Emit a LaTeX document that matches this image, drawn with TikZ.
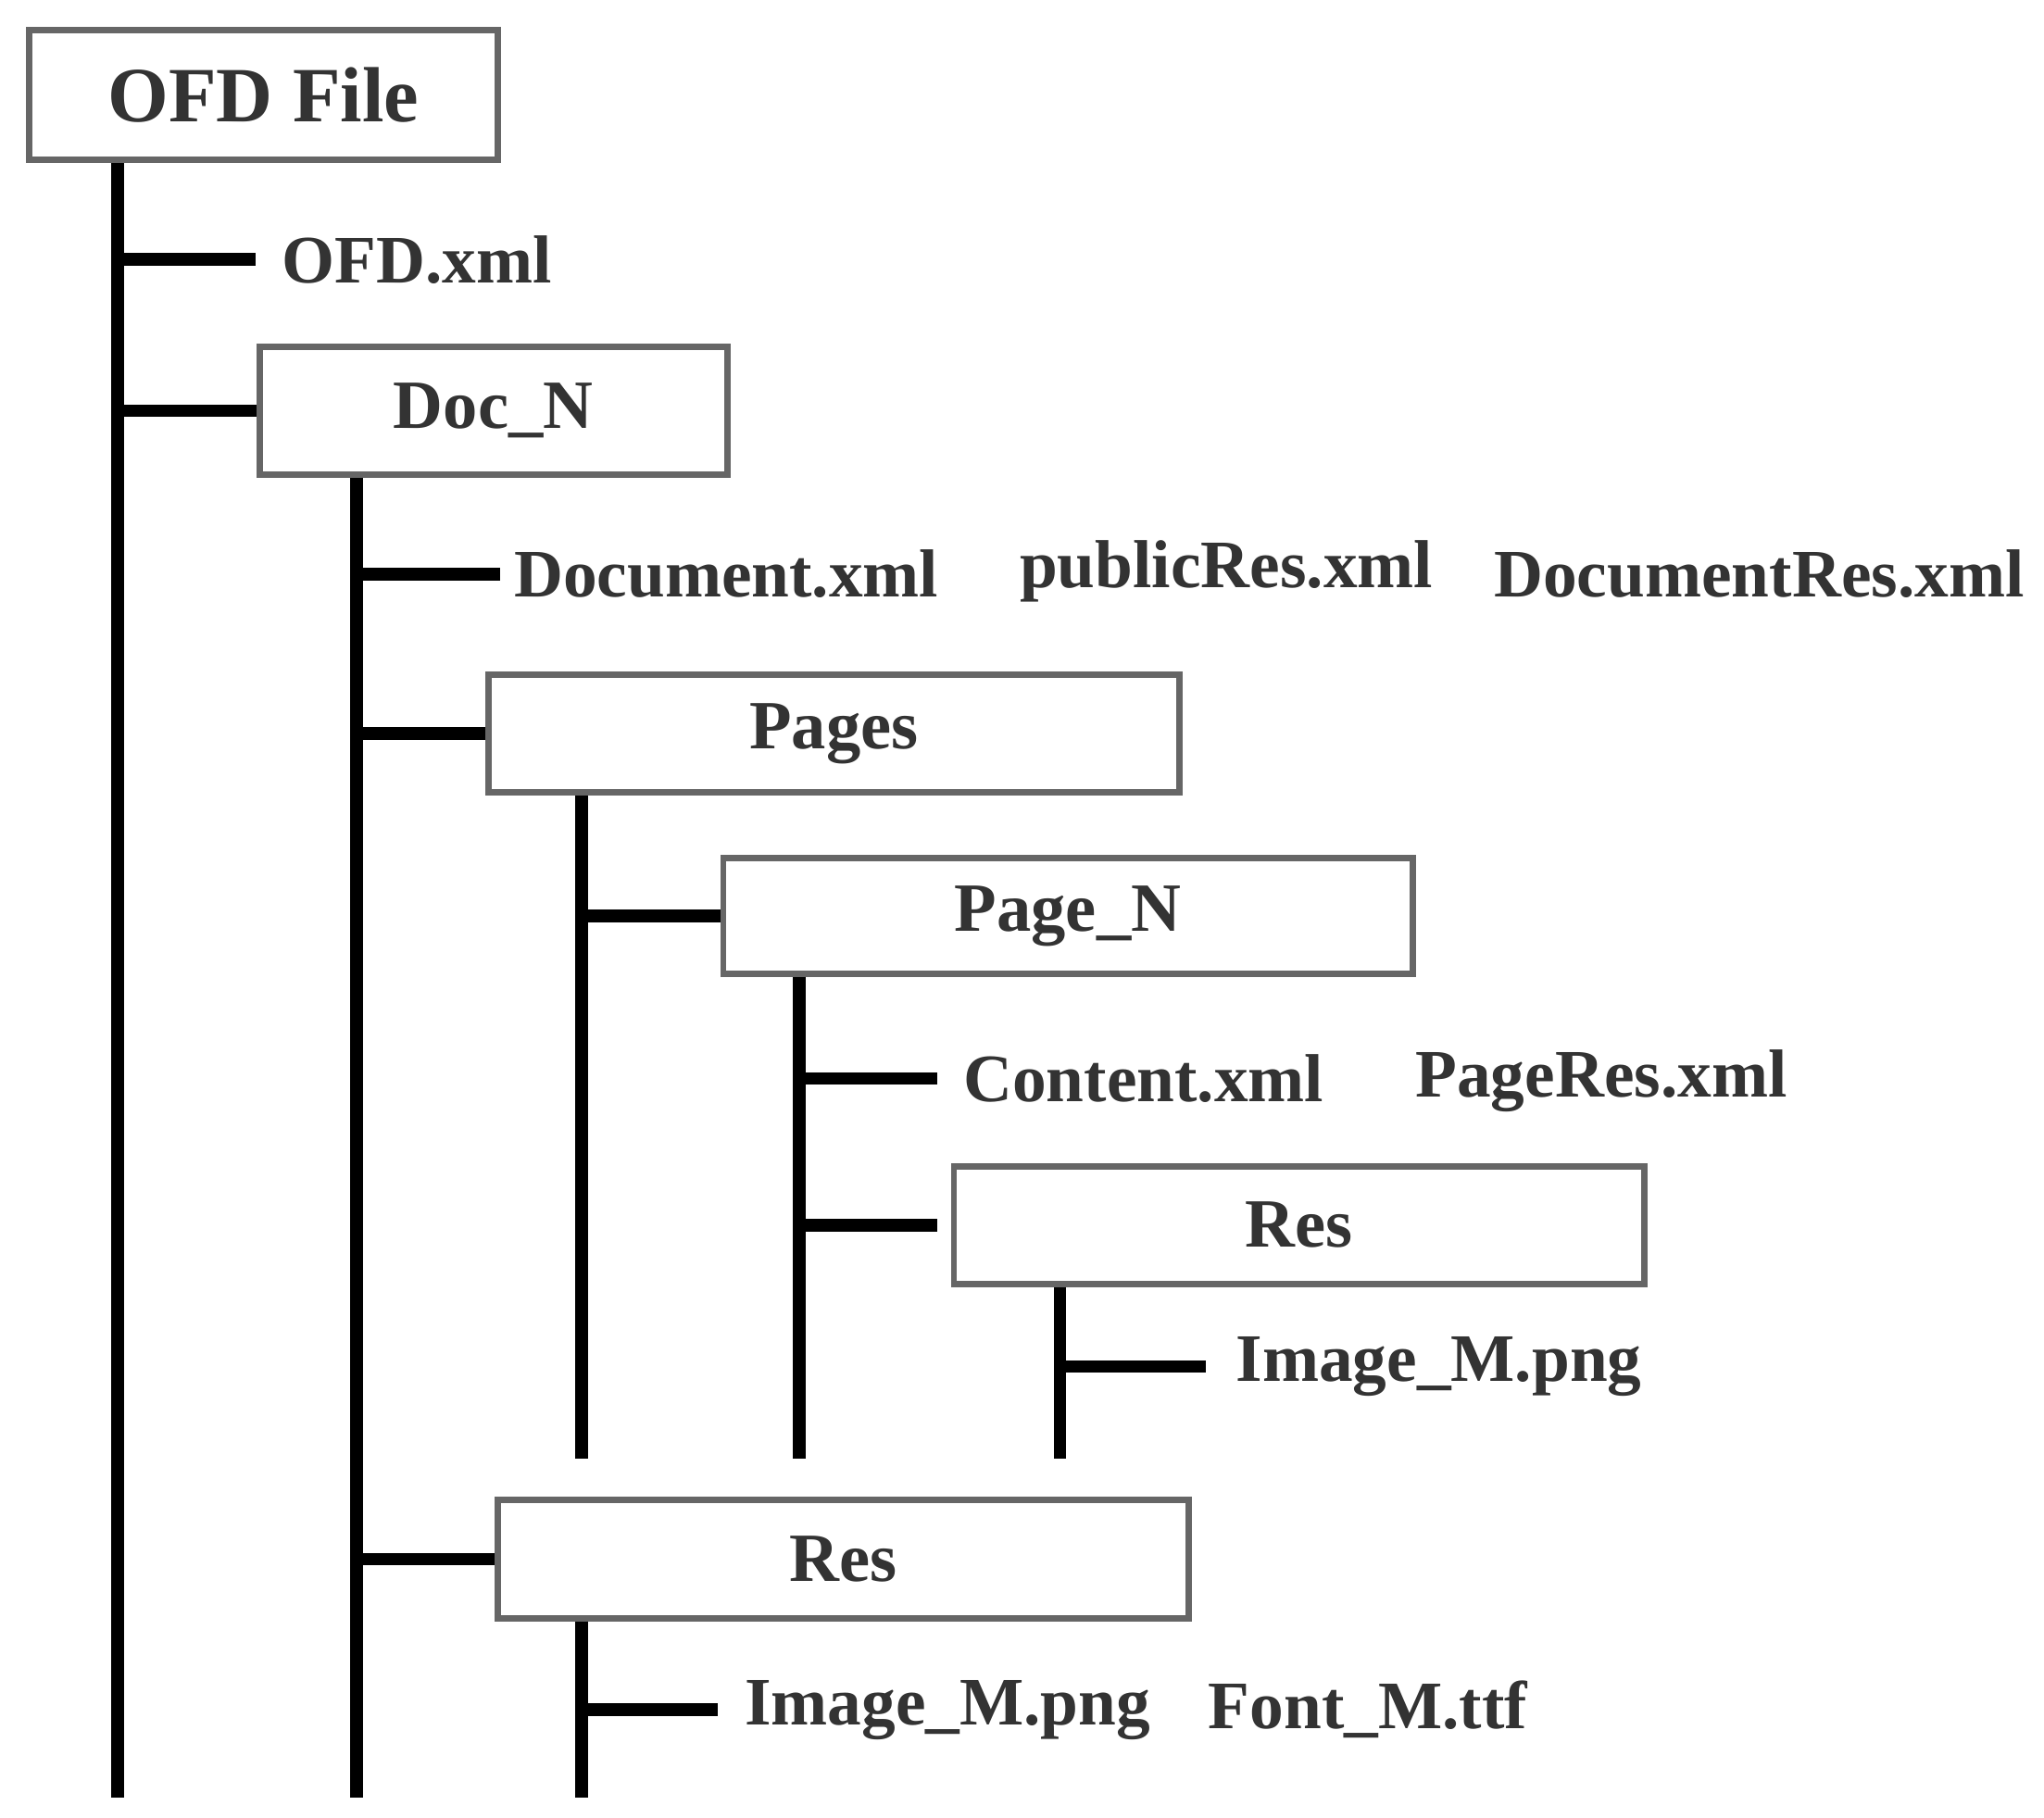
\documentclass[tikz,border=0pt]{standalone}
\usepackage{fontspec}
\setmainfont{Liberation Serif}
\begin{document}
\begin{tikzpicture}[x=0.02cm,y=-0.02cm,
 box/.style={draw=black!60,line width=2.8pt,inner sep=0pt,font=\fontsize{30}{32}\selectfont\bfseries,text=black!80},
 lbl/.style={anchor=west,inner sep=0pt,font=\fontsize{29.5}{32}\selectfont\bfseries,text=black!80},
 ln/.style={line width=5.5pt,black}]
\useasboundingbox (0,0) rectangle (1560,1387);
\node[box,minimum width=7.16cm,minimum height=1.98cm,font=\fontsize{34}{36}\selectfont\bfseries] (ofd) at (201,72.5) {OFD File};
\node[box,minimum width=7.14cm,minimum height=1.94cm] (doc) at (376.5,313.5) {Doc\_N};
\node[box,minimum width=10.54cm,minimum height=1.8cm] (pages) at (636.5,560) {Pages};
\node[box,minimum width=10.52cm,minimum height=1.76cm] (page) at (815,699) {Page\_N};
\node[box,minimum width=10.54cm,minimum height=1.8cm] (res1) at (991.5,935) {Res};
\node[box,minimum width=10.54cm,minimum height=1.8cm] (res2) at (643.5,1190) {Res};
\node[lbl] (ofdxml) at (215,198) {OFD.xml};
\node[lbl] (docxml) at (392,438) {Document.xml};
\node[lbl] (pubres) at (778,436) {publicRes.xml};
\node[lbl] (docres) at (1140,438) {DocumentRes.xml};
\node[lbl] (content) at (735,823) {Content.xml};
\node[lbl] (pageres) at (1080,825) {PageRes.xml};
\node[lbl] (img1) at (943,1043) {Image\_M.png};
\node[lbl] (img2) at (568,1305) {Image\_M.png};
\node[lbl] (font) at (922,1305) {Font\_M.ttf};
\coordinate (t1) at (90,1372); \coordinate (t2) at (272,1372);
\coordinate (t3) at (444,1113); \coordinate (t4) at (610,1113);
\coordinate (t5) at (809,1113); \coordinate (t6) at (444,1372);
\draw[ln] (ofd.south -| t1) -- (t1);
\draw[ln] (doc.south -| t2) -- (t2);
\draw[ln] (pages.south -| t3) -- (t3);
\draw[ln] (page.south -| t4) -- (t4);
\draw[ln] (res1.south -| t5) -- (t5);
\draw[ln] (res2.south -| t6) -- (t6);
\draw[ln] (t1 |- ofdxml.west) -- ++(105,0);
\draw[ln] (t1 |- doc.west) -- (doc.west);
\draw[ln] (t2 |- docxml.west) -- ++(110,0);
\draw[ln] (t2 |- pages.west) -- (pages.west);
\draw[ln] (t2 |- res2.west) -- (res2.west);
\draw[ln] (t3 |- page.west) -- (page.west);
\draw[ln] (t4 |- content.west) -- ++(105,0);
\draw[ln] (t4 |- res1.west) -- ++(105,0);
\draw[ln] (t5 |- img1.west) -- ++(111,0);
\draw[ln] (t6 |- img2.west) -- ++(104,0);
\end{tikzpicture}
\end{document}
